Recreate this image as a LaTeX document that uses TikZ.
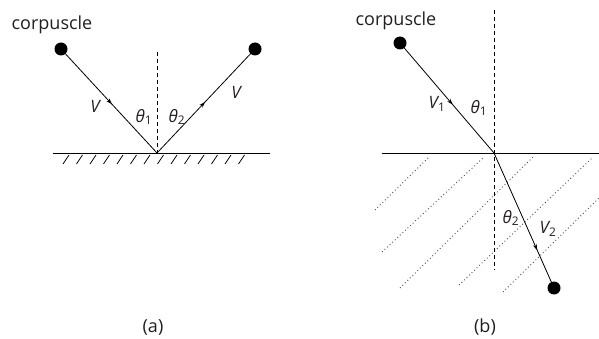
\documentclass[tikz,border=0pt]{standalone}
\usepackage{fontspec}
\setmainfont{Open Sans}
\usetikzlibrary{decorations.markings,arrows.meta}
\definecolor{txt}{HTML}{231F20}
\begin{document}
\begin{tikzpicture}[x=1pt,y=-1pt,
  ball/.style={circle,fill=black,inner sep=0pt,minimum size=13pt},
  lbl/.style={font=\fontsize{17}{17}\selectfont,text=txt,inner sep=0pt},
  big/.style={font=\fontsize{18}{18}\selectfont,text=txt,inner sep=0pt},
  ray/.style={line width=0.8pt},
  surf/.style={line width=0.9pt},
  axis/.style={line width=0.9pt,dash pattern=on 4pt off 3pt},
  hatch/.style={line width=0.7pt},
  dots/.style={line width=0.9pt,dash pattern=on 0.9pt off 2.6pt,black!70},
  midarrow/.style={postaction={decorate},decoration={markings,
     mark=at position #1 with {\arrow{Stealth[length=6pt,width=4pt]}}}}]
\useasboundingbox (0,0) rectangle (599,339);

% ---------- (a) ----------
\coordinate (aL) at (53,153);
\coordinate (aR) at (270,153);
\coordinate (aO) at (157,153);
\coordinate (aT) at (157,52);
\node[ball] (ball1) at (61,49) {};
\node[ball] (ball2) at (255,49) {};
\foreach \x in {63,76.5,90,103.5,117,130.5,144,157.5,171,184.5,198,211.5,225,238.5}
  \draw[hatch] (\x,164) -- (\x+6,155);
\draw[surf] (aL) -- (aR);
\draw[axis] (aT) -- (aO);
\draw[ray,midarrow=0.53] (ball1.center) -- (aO);
\draw[ray,midarrow=0.49] (aO) -- (ball2.center);
\node[big] (corpA) at (52,25) {corpuscle};
\node[lbl] (vA1) at (95,106) {\itshape V};
\node[lbl] (thA1) at (144,117) {\itshape θ\textsubscript{\upshape 1}};
\node[lbl] (thA2) at (177,117) {\itshape θ\textsubscript{\upshape 2}};
\node[lbl] (vA2) at (236,92) {\itshape V};
\node[big] (capA) at (153,327) {(a)};

% ---------- (b) ----------
\coordinate (bL) at (382,153);
\coordinate (bR) at (599,153);
\coordinate (bO) at (494,153);
\coordinate (bT) at (494,10);
\coordinate (bB) at (494,270);
\node[ball] (ball3) at (400,43) {};
\node[ball] (ball4) at (554,288) {};
\draw[dots] (375,210) -- (428,158);
\draw[dots] (382,252) -- (483,158);
\draw[dots] (400,288) -- (533,157);
\draw[dots] (459,285) -- (593,157);
\draw[dots] (503,292) -- (599,198);
\draw[surf] (bL) -- (bR);
\draw[axis] (bT) -- (bB);
\draw[ray,midarrow=0.56] (ball3.center) -- (bO);
\draw[ray,midarrow=0.72] (bO) -- (ball4.center);
\node[big] (corpB) at (396,21) {corpuscle};
\node[lbl] (vB1) at (437,104) {\itshape V\textsubscript{\upshape 1}};
\node[lbl] (thB1) at (479,108) {\itshape θ\textsubscript{\upshape 1}};
\node[lbl] (thB2) at (511,218) {\itshape θ\textsubscript{\upshape 2}};
\node[lbl] (vB2) at (548,229) {\itshape V\textsubscript{\upshape 2}};
\node[big] (capB) at (485,327) {(b)};
\end{tikzpicture}
\end{document}
